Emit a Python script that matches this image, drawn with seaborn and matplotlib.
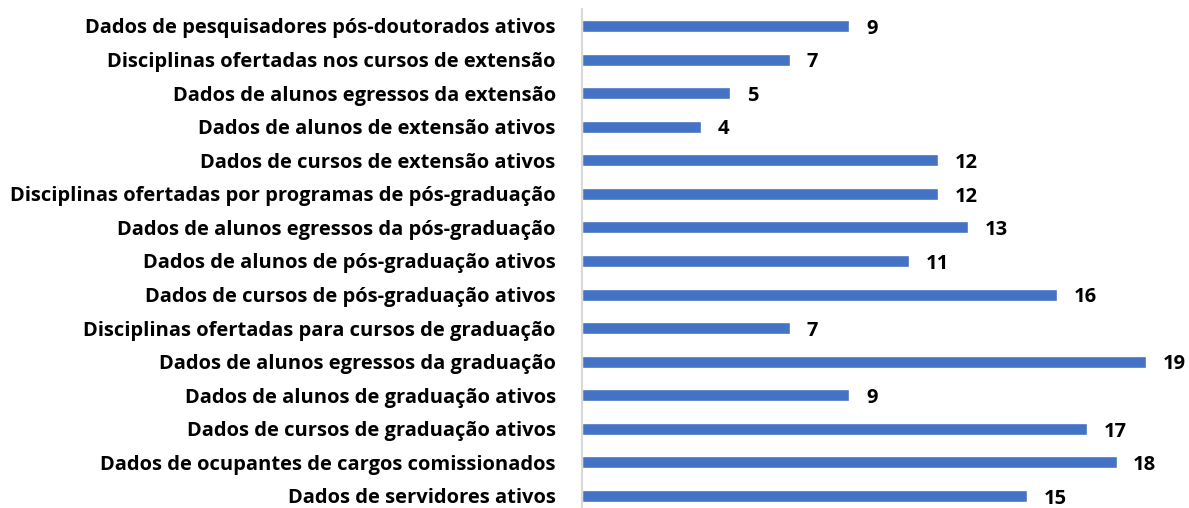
import seaborn as sns
import matplotlib.pyplot as plt
import pandas as pd

categorias = [
    "Dados de pesquisadores pós-doutorados ativos",
    "Disciplinas ofertadas nos cursos de extensão",
    "Dados de alunos egressos da extensão",
    "Dados de alunos de extensão ativos",
    "Dados de cursos de extensão ativos",
    "Disciplinas ofertadas por programas de pós-graduação",
    "Dados de alunos egressos da pós-graduação",
    "Dados de alunos de pós-graduação ativos",
    "Dados de cursos de pós-graduação ativos",
    "Disciplinas ofertadas para cursos de graduação",
    "Dados de alunos egressos da graduação",
    "Dados de alunos de graduação ativos",
    "Dados de cursos de graduação ativos",
    "Dados de ocupantes de cargos comissionados",
    "Dados de servidores ativos",
]
valores = [9, 7, 5, 4, 12, 12, 13, 11, 16, 7, 19, 9, 17, 18, 15]

df = pd.DataFrame({"Categoria": categorias, "Valor": valores})

sns.set_theme(style="white")
plt.rcParams["font.family"] = ["Open Sans", "DejaVu Sans"]

fig = plt.figure(figsize=(11.89, 5.08), dpi=100)
ax = fig.add_axes([0.4895, -0.0094, 0.4995, 0.9913])
sns.barplot(data=df, x="Valor", y="Categoria", color="#4472C4", saturation=1,
            width=0.36, orient="h", ax=ax)

ax.set_xlim(0, 20)
ax.set_ylim(14.5, -0.5)
ax.set(xlabel=None, ylabel=None, xticks=[])
for side in ["top", "right", "bottom"]:
    ax.spines[side].set_visible(False)
ax.spines["left"].set_color("#d9d9d9")
ax.spines["left"].set_linewidth(1.5)
ax.tick_params(axis="y", length=0, pad=19)
for lbl in ax.get_yticklabels():
    lbl.set_fontweight("bold")
    lbl.set_fontsize(14.5)
    lbl.set_color("black")

for c in ax.containers:
    labels = ax.bar_label(c, padding=12, fontsize=14.5, fontweight="bold", color="black")
    for t in labels:
        t.xyann = (12, -2)  # numbers sit a little below the bar centre

fig.savefig("out.png", dpi=100)
